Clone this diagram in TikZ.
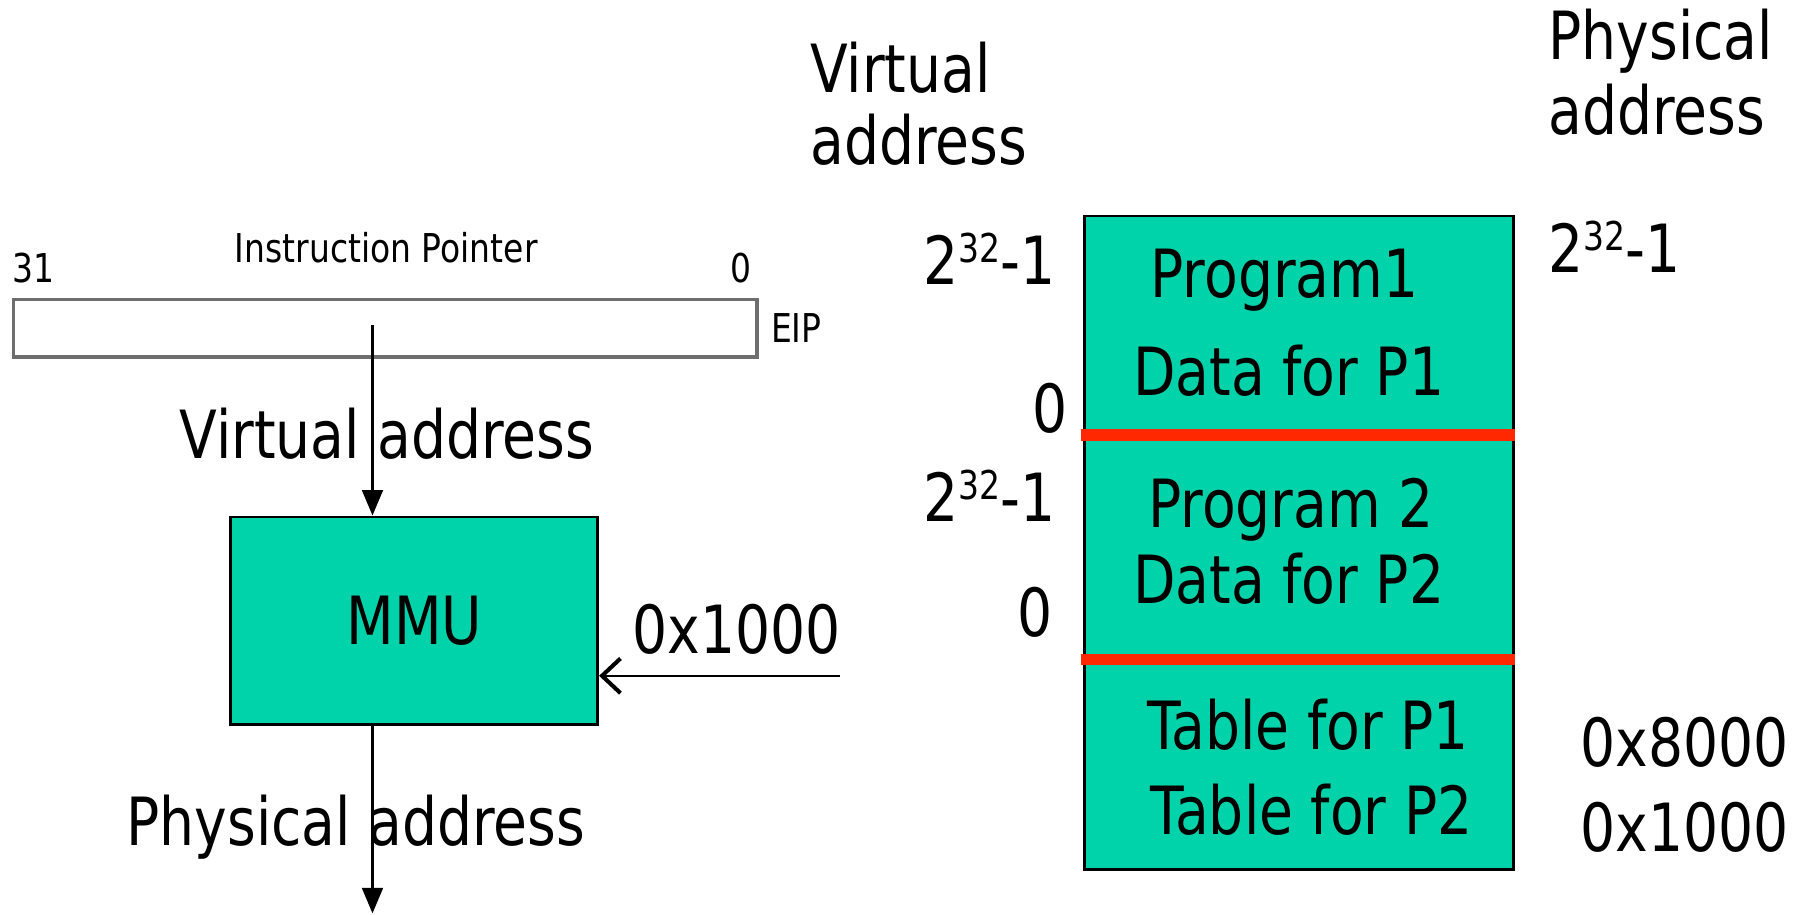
\documentclass[tikz,border=0pt]{standalone}
\usepackage{fontspec}
\setmainfont[FakeStretch=0.83]{DejaVu Sans}
\usetikzlibrary{arrows.meta}
\definecolor{mmuteal}{RGB}{0,210,170}
\definecolor{sepred}{RGB}{255,40,0}
\definecolor{eipgray}{RGB}{110,110,110}
\newcommand\pwtwo{2\raisebox{5.4pt}{\fontsize{9.8}{10}\selectfont 32}-1}
\tikzset{
  big/.style={font=\fontsize{16.4}{18}\selectfont, inner sep=0pt, anchor=base west},
  small/.style={font=\fontsize{9.8}{11}\selectfont, inner sep=0pt, anchor=base west, text=black},
  tealbox/.style={draw=black, line width=0.7pt, fill=mmuteal, inner sep=0pt},
  sepline/.style={draw=sepred, line width=1mm},
  conn/.style={draw=black, line width=0.6pt},
  tri/.style={-{Triangle[length=2.2mm,width=1.8mm]}},
  barb/.style={-{Straight Barb[length=1.6mm,width=3mm,line width=1pt]}}
}
\begin{document}
\begin{tikzpicture}[x=0.1mm,y=-0.1mm]
\useasboundingbox (0,0) rectangle (1560,792.6);
% ---------- left part ----------
\node[small] (ipl) at (203,228) {Instruction Pointer};
\node[small] (b31) at (10,245) {31};
\node[small] (b0) at (633,245) {0};
\node[draw=eipgray, line width=0.9pt, fill=white, minimum width=64.5mm, minimum height=5mm, inner sep=0pt, anchor=north west] (eip) at (10,258) {};
\node[small] (eipl) at (668,297) {EIP};
\node[tealbox, minimum width=31.8mm, minimum height=18mm, anchor=north west, font=\fontsize{16.4}{18}\selectfont] (mmu) at (199,447) {MMU};
\node[big] (vaddr) at (155,398) {Virtual address};
\node[big] (in0) at (548,567) {0x1000};
\node[big] (paddr) at (109,733) {Physical address};
\coordinate (eipsrc) at (323,282);
\coordinate (inpt) at (728,586);
\coordinate (outpt) at (323,792);
\draw[conn, tri] (eipsrc) -- (eipsrc |- mmu.north);
\draw[conn, barb] (inpt) -- (inpt -| mmu.east);
\draw[conn, tri] (eipsrc |- mmu.south) -- (outpt);
% ---------- right part ----------
\node[big] (va1) at (702,80) {Virtual};
\node[big] (va2) at (702,143) {address};
\node[big] (pa1) at (1342,52) {Physical};
\node[big] (pa2) at (1342,117) {address};
\node[tealbox, minimum width=37.2mm, minimum height=56.7mm, anchor=north west] (mem) at (939,186) {};
\coordinate (s1) at (937,377);
\coordinate (s2) at (937,572);
\draw[sepline] (s1) -- (s1 -| mem.east);
\draw[sepline] (s2) -- (s2 -| mem.east);
\node[big] (vtop1) at (800,247) {\pwtwo};
\node[big] (vbot1) at (895,375) {0};
\node[big] (vtop2) at (800,452) {\pwtwo};
\node[big] (vbot2) at (882,552) {0};
\node[big] (prog1) at (997,258) {Program1};
\node[big] (data1) at (982,343) {Data for P1};
\node[big] (prog2) at (995,457) {Program 2};
\node[big] (data2) at (982,523) {Data for P2};
\node[big] (tab1) at (994,650) {Table for P1};
\node[big] (tab2) at (997,724) {Table for P2};
\node[big] (ptop) at (1342,236) {\pwtwo};
\node[big] (p8000) at (1370,665) {0x8000};
\node[big] (p1000) at (1370,738) {0x1000};
\end{tikzpicture}
\end{document}
